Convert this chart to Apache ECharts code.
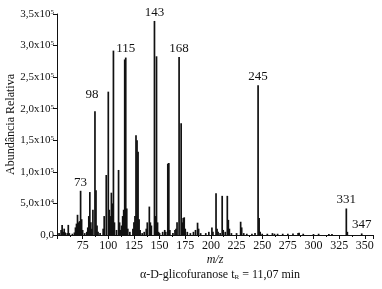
<!DOCTYPE html>
<html>
<head>
<meta charset="utf-8">
<script src="https://cdn.jsdelivr.net/npm/echarts@6/dist/echarts.min.js"></script>
<style>
  html, body { margin: 0; padding: 0; background: #fff; }
  #chart { width: 382px; height: 289px; }
</style>
</head>
<body>
<div id="chart"></div>
<script>
// m/z positions and abundances
const mz = [52, 54, 55, 56, 57, 58, 60, 61, 62, 65, 67, 68, 69, 70, 71, 72, 73, 74, 75, 77,
  79, 80, 81, 82, 83, 84, 85, 87, 88, 89, 90, 92, 95, 96, 98, 100, 101, 102, 103, 104,
  105, 106, 108, 110, 111, 112, 113, 114, 115, 116, 117, 118, 119, 121, 124, 125, 126, 127, 128, 129,
  130, 131, 133, 135, 137, 138, 140, 141, 142, 145, 146, 147, 148, 149, 150, 153, 155, 156, 158, 159,
  160, 163, 165, 166, 167, 169, 171, 172, 173, 174, 175, 177, 180, 183, 185, 187, 188, 190, 195, 198,
  201, 202, 205, 206, 207, 209, 211, 212, 214, 216, 217, 218, 220, 225, 229, 230, 232, 235, 240, 243,
  246, 247, 248, 250, 255, 260, 262, 265, 270, 275, 280, 285, 286, 290, 300, 305, 315, 318, 332, 333, 347];
const abundance = [3000, 8000, 16000, 5000, 10000, 4000, 3000, 16000, 3000, 2000, 4000, 12000, 18000, 32000, 20000, 22000, 70000, 25000, 8000, 3000,
  5000, 12000, 30000, 68000, 20000, 10000, 40000, 196000, 71000, 15000, 5000, 3000, 10000, 30000, 95000, 227000, 40000, 30000, 67000, 50000,
  292000, 20000, 8000, 103000, 20000, 8000, 15000, 30000, 40000, 278000, 281000, 42000, 10000, 5000, 10000, 20000, 30000, 158000, 150000, 132000,
  25000, 8000, 3000, 5000, 10000, 20000, 45000, 20000, 15000, 339000, 30000, 283000, 20000, 5000, 3000, 5000, 8000, 5000, 113000, 114000,
  8000, 3000, 8000, 10000, 20000, 282000, 177000, 20000, 27000, 28000, 10000, 5000, 3000, 5000, 8000, 19500, 10000, 3000, 3000, 5000,
  12000, 5000, 66000, 10000, 5000, 3000, 62000, 8000, 5000, 62000, 24000, 10000, 3000, 3000, 21000, 12000, 3000, 2000, 2000, 3000,
  237000, 27000, 5000, 2000, 2000, 3000, 2000, 2000, 2000, 2000, 2500, 3000, 3500, 2000, 1500, 2000, 1500, 1500, 42000, 5000, 2500];

// annotated peaks: position in the plot and the printed label
const peakMz = [73, 87, 117, 145, 169, 246, 332, 347];
const peakText = ['73', '98', '115', '143', '168', '245', '331', '347'];

const serif = '"Liberation Serif", "DejaVu Serif", serif';

function yLabel(v) {
  if (v === 0) return '0,0';
  const exp = v < 100000 ? 4 : 5;
  const mant = (v / Math.pow(10, exp)).toFixed(1).replace('.', ',');
  return mant + 'x10{sup|' + exp + '}';
}

const data = mz.map((m, i) => {
  const k = peakMz.indexOf(m);
  const item = { value: [m, abundance[i]] };
  if (k >= 0) {
    item.label = {
      show: true,
      position: 'top',
      distance: 2,
      formatter: peakText[k],
      fontFamily: serif,
      fontSize: 13,
      color: '#111'
    };
    if (peakText[k] === '98') item.label.offset = [-3, -8];
  }
  return item;
});

const chart = echarts.init(document.getElementById('chart'), null, { renderer: 'canvas' });

const option = {
  animation: false,
  title: {
    text: 'α-D-glicofuranose t{sub|R} = 11,07 min',
    left: 215,
    textAlign: 'center',
    top: 264,
    textStyle: {
      fontFamily: serif,
      fontSize: 12,
      fontWeight: 'normal',
      color: '#111',
      rich: {
        sub: { fontSize: 7, fontFamily: serif, verticalAlign: 'bottom', lineHeight: 7, padding: [6, 0, 0, 0] }
      }
    }
  },
  grid: { left: 57, right: 9, top: 14, bottom: 54, containLabel: false, outerBoundsMode: 'none' },
  xAxis: {
    type: 'value',
    min: 50,
    max: 358,
    interval: 25,
    name: 'm/z',
    nameLocation: 'middle',
    nameGap: 19,
    nameMoveOverlap: false,
    nameTextStyle: { fontFamily: serif, fontStyle: 'italic', fontSize: 12, color: '#111' },
    axisLine: { lineStyle: { color: '#111', width: 1 } },
    axisTick: { show: true, inside: false, length: 4, lineStyle: { color: '#111' } },
    minorTick: { show: true, splitNumber: 2, length: 2, lineStyle: { color: '#111' } },
    splitLine: { show: false },
    axisLabel: {
      showMinLabel: false,
      showMaxLabel: false,
      fontFamily: serif,
      fontSize: 12,
      color: '#111',
      margin: 5
    }
  },
  yAxis: {
    type: 'value',
    min: 0,
    max: 350000,
    interval: 50000,
    name: 'Abundância Relativa',
    nameLocation: 'middle',
    nameGap: 40,
    nameMoveOverlap: false,
    nameTextStyle: { fontFamily: serif, fontSize: 12, color: '#111' },
    axisLine: { show: true, lineStyle: { color: '#111', width: 1 } },
    axisTick: { show: true, length: 4, lineStyle: { color: '#111' } },
    splitLine: { show: false },
    axisLabel: {
      fontFamily: serif,
      fontSize: 11,
      color: '#111',
      margin: 3,
      formatter: yLabel,
      rich: {
        sup: { fontSize: 7, fontFamily: serif, verticalAlign: 'top', lineHeight: 7, padding: [0, 0, 6, 0] }
      }
    }
  },
  series: [{
    type: 'bar',
    barWidth: 1.7,
    itemStyle: { color: '#111' },
    data: data
  }]
};

chart.setOption(option);
</script>
</body>
</html>
